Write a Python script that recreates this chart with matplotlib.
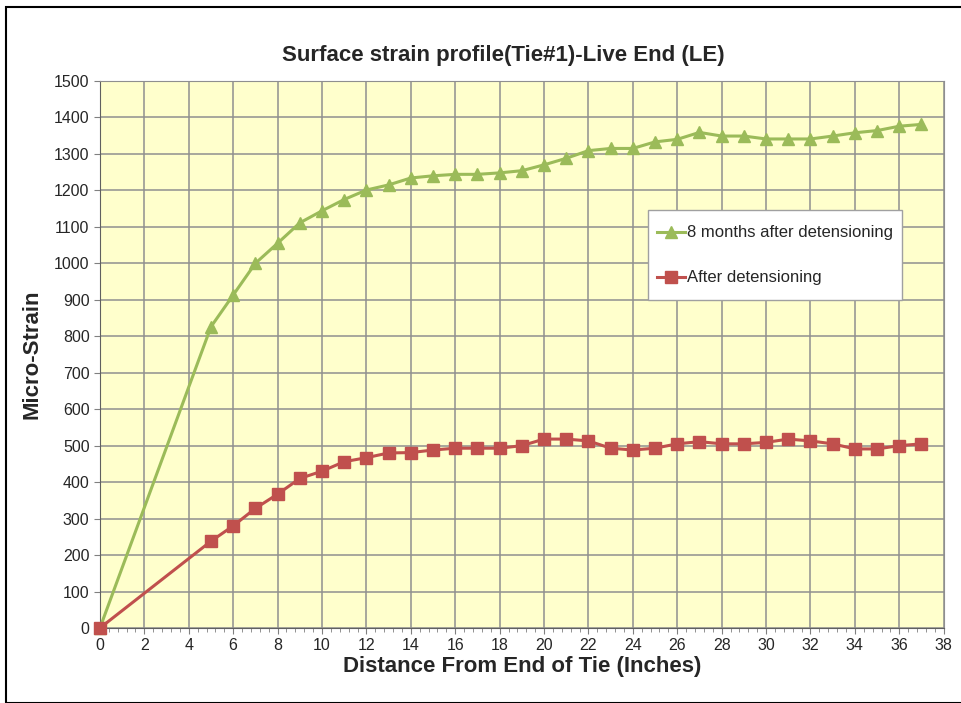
import matplotlib.pyplot as plt
from matplotlib.ticker import MultipleLocator
from matplotlib.patches import Rectangle

plt.rcParams['font.family'] = ['Liberation Sans', 'DejaVu Sans']

#----------- chart data -------------------------------------
distance = [0, 5, 6, 7, 8, 9, 10, 11, 12, 13, 14, 15, 16, 17, 18, 19, 20,
            21, 22, 23, 24, 25, 26, 27, 28, 29, 30, 31, 32, 33, 34, 35, 36, 37]
strain_8_months = [0, 826, 913, 1000, 1055, 1111, 1144, 1175, 1201, 1215, 1234,
                   1240, 1244, 1244, 1248, 1254, 1270, 1288, 1309, 1315, 1315,
                   1333, 1340, 1359, 1349, 1349, 1341, 1341, 1341, 1349, 1358,
                   1364, 1376, 1381]
strain_after = [0, 238, 280, 328, 367, 410, 430, 456, 467, 480, 481, 488, 493,
                493, 493, 500, 518, 518, 513, 493, 488, 493, 505, 511, 505, 505,
                509, 518, 513, 505, 491, 491, 500, 505]

green = '#9BBB59'
red = '#C0504D'
text_col = '#262626'

fig = plt.figure(figsize=(9.61, 7.03), dpi=100)
ax = fig.add_axes([0.104, 0.1067, 0.878, 0.7781])

# outer frame round the whole chart
fig.patches.append(Rectangle((0.006, 0.0), 1.2, 0.99, transform=fig.transFigure,
                             fill=False, edgecolor='black', linewidth=1.5))

ax.set_facecolor('#FFFFCC')
ax.plot(distance, strain_8_months, color=green, marker='^', markersize=9,
        linewidth=2.2, label='8 months after detensioning', zorder=3,
        clip_on=False)
ax.plot(distance, strain_after, color=red, marker='s', markersize=8,
        linewidth=2.2, label='After detensioning', zorder=3, clip_on=False)

ax.set_xlim(0, 38)
ax.set_ylim(0, 1500)
ax.xaxis.set_major_locator(MultipleLocator(2))
ax.xaxis.set_minor_locator(MultipleLocator(0.4))
ax.yaxis.set_major_locator(MultipleLocator(100))
ax.grid(True, which='major', color='#8f8f8f', linewidth=1.1)
ax.set_axisbelow(True)
ax.tick_params(axis='both', labelsize=11.5, length=4, color='#808080',
               labelcolor=text_col)
ax.tick_params(axis='x', which='minor', length=3, color='#808080')

for s in ax.spines.values():
    s.set_color('#8f8f8f')
ax.spines['left'].set_color('#606060')
ax.spines['bottom'].set_color('#606060')

# title sits a bit left of the plot centre, as in the original
fig.text(0.524, 0.921, 'Surface strain profile(Tie#1)-Live End (LE)',
         fontsize=16, fontweight='bold', ha='center', va='center',
         color=text_col)
ax.set_xlabel('Distance From End of Tie (Inches)', fontsize=16,
              fontweight='bold', labelpad=2, color=text_col)
ax.set_ylabel('Micro-Strain', fontsize=16, fontweight='bold', labelpad=8,
              color=text_col)

# legend box drawn by hand so its padding can match
ax.add_patch(Rectangle((0.649, 0.5996), 0.302, 0.1645, transform=ax.transAxes,
                       facecolor='white', edgecolor='#a0a0a0', linewidth=1,
                       zorder=4))
leg = ax.legend(loc='center left', bbox_to_anchor=(0.66, 0.681), fontsize=12,
                frameon=False, handlelength=1.68, handletextpad=0.12,
                labelspacing=1.8, borderpad=0, borderaxespad=0)
leg.set_zorder(5)
for t in leg.get_texts():
    t.set_color(text_col)

plt.savefig('out.png')
plt.close()
